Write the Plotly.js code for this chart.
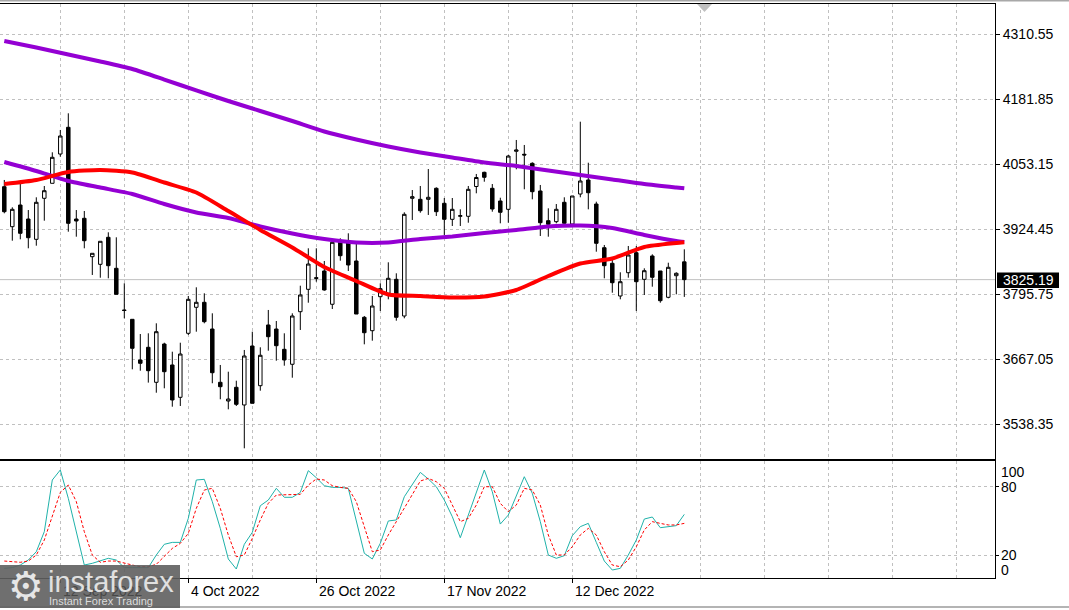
<!DOCTYPE html>
<html>
<head>
<meta charset="utf-8">
<script src="https://cdn.plot.ly/plotly-3.0.1.min.js"></script>
<style>
  html, body { margin: 0; padding: 0; background: #ffffff; }
  #chart { width: 1069px; height: 610px; }
</style>
</head>
<body>
<div id="chart"></div>
<script>
// ---------------- data ----------------
const bars = Array.from({length: 86}, (_, i) => i);

const open = [4009.2,3930.0,3972.9,3945.2,3905.0,3986.2,4015.9,4073.9,4126.8,3945.2,
  3946.6,3870.6,3855.5,3909.0,3847.6,3765.1,3746.6,3666.1,3691.2,3621.9,
  3697.7,3656.2,3592.2,3718.9,3770.4,3780.3,3727.4,3621.9,3584.9,3612.0,
  3577.0,3693.8,3615.2,3735.4,3727.4,3687.2,3657.6,3761.7,3806.0,3829.0,
  3842.3,3776.4,3899.1,3899.1,3862.1,3750.6,3724.1,3791.4,3798.1,3825.8,
  3753.2,3986.2,3984.2,3984.2,4006.0,3976.3,3944.6,3950.6,3950.6,4009.6,
  4037.7,4006.0,3980.9,3964.4,4079.3,4073.4,4055.5,4000.7,3941.9,3939.9,
  3978.3,3935.3,3994.7,4022.5,3974.9,3888.4,3857.5,3792.8,3838.9,3878.5,
  3825.8,3872.0,3842.3,3790.2,3833.0,3860.4];
const high = [4022.5,3968.4,4017.1,3963.0,3988.2,4010.6,4077.3,4121.5,4154.5,3963.0,
  3961.1,3877.3,3901.1,3918.9,3909.0,3817.9,3746.6,3717.5,3718.9,3738.7,
  3700.3,3682.5,3700.3,3792.8,3810.0,3798.1,3758.5,3656.2,3642.9,3625.1,
  3685.9,3722.1,3691.2,3765.1,3743.3,3718.9,3758.5,3813.2,3887.2,3887.2,
  3862.1,3901.7,3907.0,3916.9,3900.3,3753.2,3792.8,3817.9,3859.5,3837.7,
  3958.5,4002.6,4010.6,4044.2,4008.0,3986.8,3986.8,3964.4,4010.6,4034.4,
  4038.9,4014.5,3987.4,4071.9,4101.7,4091.8,4057.5,4012.6,3966.4,3974.9,
  3988.2,3990.8,4137.9,4056.7,3979.5,3893.8,3867.4,3839.7,3891.8,3891.8,
  3847.6,3875.3,3842.3,3858.7,3839.7,3885.2];
const low = [3956.5,3902.3,3905.0,3887.2,3892.4,3941.9,4015.9,4068.6,3920.1,3910.2,
  3887.2,3834.4,3829.0,3827.8,3796.1,3748.6,3647.6,3644.9,3621.3,3601.3,
  3610.0,3573.6,3575.0,3715.6,3722.1,3738.7,3620.0,3588.3,3568.4,3575.0,
  3491.2,3580.3,3605.3,3684.5,3664.7,3654.8,3631.0,3725.5,3779.5,3821.1,
  3803.3,3767.0,3862.7,3842.3,3757.1,3697.1,3704.3,3763.1,3786.2,3743.9,
  3748.6,3943.3,3957.7,3953.2,3951.2,3913.6,3931.4,3931.4,3937.9,3996.1,
  4019.1,3959.7,3936.7,3937.9,4043.6,4004.1,3984.2,3911.6,3910.2,3936.7,
  3935.3,3935.3,3988.2,3964.4,3880.5,3827.8,3799.3,3786.2,3829.0,3763.1,
  3794.8,3811.2,3779.5,3788.2,3796.1,3791.0];
const close = [3959.7,3964.4,3916.9,3908.2,3978.3,4001.3,4067.4,4109.6,3936.7,3941.3,
  3902.3,3877.3,3901.1,3852.8,3796.1,3764.1,3689.2,3659.5,3644.9,3722.1,
  3642.9,3586.9,3677.9,3786.2,3780.3,3741.9,3640.9,3613.2,3588.8,3578.3,
  3674.0,3580.3,3675.4,3712.2,3694.4,3666.1,3753.2,3794.8,3856.1,3827.8,
  3804.7,3899.1,3872.6,3854.2,3757.1,3720.1,3773.0,3807.3,3827.8,3750.6,
  3954.5,3989.4,3961.7,3988.2,3959.7,3944.6,3964.4,3951.8,4004.0,4027.4,
  4027.8,3965.0,3958.5,4069.9,4081.9,4072.0,3999.3,3937.9,3934.7,3964.4,
  3936.7,3990.8,4020.5,3997.3,3897.1,3852.8,3819.1,3821.1,3874.0,3821.1,
  3842.9,3829.8,3783.5,3849.6,3837.7,3825.19];

// moving averages, read at every 4th bar
const maIdx = [0,4,8,12,16,20,24,28,32,36,40,44,48,52,56,60,64,68,72,76,80,84,85];
const maSlow = [4297.7,4284.8,4270.9,4257.1,4242.2,4221.4,4199.7,4178.9,4159.1,4139.3,
  4118.5,4102.7,4088.8,4077.0,4067.0,4057.1,4050.2,4041.3,4032.4,4023.5,4014.5,4007.6,4006.0];
const maMid = [4058.1,4040.3,4020.5,4007.6,3994.8,3974.9,3958.1,3947.2,3930.4,3916.5,
  3905.6,3898.7,3898.7,3905.6,3910.6,3917.5,3923.5,3930.4,3932.4,3927.4,3913.6,3901.7,3899.7];
const maFast = [4014.6,4022.5,4038.3,4042.3,4037.3,4017.5,3997.7,3961.1,3923.5,3888.8,
  3850.2,3822.5,3795.8,3792.8,3789.8,3791.8,3804.7,3832.4,3857.1,3867.0,3889.8,3897.7,3899.1];

// stochastic %K and %D
const stochK = [8.3,8.9,11.2,15.6,22.9,40.5,85.9,94.7,69.8,40.5,
  11.2,12.7,14.7,17.1,15.6,8.9,8.9,8.9,8.9,20.0,
  29.4,31.1,31.1,52.2,85.9,86.5,66.9,43.4,16.5,7.7,
  29.4,39.9,63.3,68.3,78.6,70.7,70.7,75.0,94.1,87.9,
  80.9,79.4,79.4,78.6,49.3,21.5,16.5,30.3,49.9,50.8,
  71.2,81.5,92.6,86.8,80.0,68.3,53.7,35.2,55.1,74.2,
  94.7,75.6,47.2,55.1,72.7,88.8,74.2,49.3,20.0,17.1,
  19.4,37.0,44.9,47.8,31.1,14.7,6.8,8.3,20.0,33.2,
  51.6,53.4,44.0,44.9,45.8,55.7];
const stochD = [14.7,14.1,13.6,14.7,20.0,33.2,53.7,75.0,81.5,66.9,
  40.5,20.0,13.6,14.7,14.7,12.7,11.2,9.7,9.7,11.8,
  18.5,25.8,30.2,39.0,61.0,77.1,78.6,61.0,37.6,18.5,
  20.0,34.6,50.8,65.4,72.7,72.7,72.7,73.3,81.5,86.8,
  85.9,80.9,79.4,78.6,66.9,44.9,22.9,24.4,37.6,49.3,
  61.0,72.7,85.0,87.3,84.4,78.6,63.9,49.3,52.2,63.9,
  80.0,80.0,65.4,58.1,63.9,78.6,77.1,63.9,37.6,20.0,
  20.0,27.3,37.6,43.4,37.6,22.9,11.2,9.7,15.6,27.3,
  42.0,49.3,47.8,46.4,46.4,47.8];

const priceTicks = [3538.35, 3667.05, 3795.75, 3924.45, 4053.15, 4181.85, 4310.55];
const lastPrice = 3825.19;
const dateTickIdx = [7, 23, 39, 55, 71];
const dateTickText = ["12 Sep 2022", "4 Oct 2022", "26 Oct 2022", "17 Nov 2022", "12 Dec 2022"];
const stochLevels = [100, 80, 20, 0];

// ---------------- geometry helpers ----------------
const W = 1069, H = 610;
const px = x => x / W;
const py = y => 1 - y / H;
const plotRight = px(995);
const GRID = '#c0c0c0';
const FONT = 'Liberation Sans, Arial, sans-serif';

const traces = [
  {
    type: 'candlestick', x: bars, open: open, high: high, low: low, close: close,
    xaxis: 'x', yaxis: 'y', whiskerwidth: 0,
    increasing: {line: {color: '#000000', width: 1}, fillcolor: '#ffffff'},
    decreasing: {line: {color: '#000000', width: 1}, fillcolor: '#000000'},
    hoverinfo: 'skip', showlegend: false
  },
  {type: 'scatter', mode: 'lines', x: maIdx, y: maSlow, xaxis: 'x', yaxis: 'y',
   line: {color: '#9400D3', width: 4, shape: 'spline', smoothing: 0.6}, hoverinfo: 'skip'},
  {type: 'scatter', mode: 'lines', x: maIdx, y: maMid, xaxis: 'x', yaxis: 'y',
   line: {color: '#9400D3', width: 4, shape: 'spline', smoothing: 0.6}, hoverinfo: 'skip'},
  {type: 'scatter', mode: 'lines', x: maIdx, y: maFast, xaxis: 'x', yaxis: 'y',
   line: {color: '#FF0000', width: 4, shape: 'spline', smoothing: 0.6}, hoverinfo: 'skip'},
  {type: 'scatter', mode: 'lines', x: bars, y: stochK, xaxis: 'x2', yaxis: 'y2',
   line: {color: '#20B2AA', width: 1}, hoverinfo: 'skip'},
  {type: 'scatter', mode: 'lines', x: bars, y: stochD, xaxis: 'x2', yaxis: 'y2',
   line: {color: '#FF0000', width: 1, dash: '3px,2px'}, hoverinfo: 'skip'}
];

const xRange = [(0 - 4.3) / 8, (995 - 4.3) / 8];

const annotations = [];
dateTickIdx.forEach((idx, k) => {
  annotations.push({
    x: idx, xref: 'x2', y: py(591), yref: 'paper', xanchor: 'left', yanchor: 'middle',
    xshift: 1, showarrow: false, text: dateTickText[k],
    font: {family: FONT, size: 14, color: k === 0 ? 'rgba(20,20,20,0.45)' : '#000000'}
  });
});
const stochLabelY = {100: 471.7, 80: 487, 20: 555, 0: 570};
stochLevels.forEach(v => {
  annotations.push({
    x: px(999), xref: 'paper', y: py(stochLabelY[v]), yref: 'paper',
    xanchor: 'left', yanchor: 'middle', showarrow: false, text: String(v),
    font: {family: FONT, size: 14, color: '#000000'}
  });
});
annotations.push({
  x: px(1028), xref: 'paper', y: lastPrice, yref: 'y', xanchor: 'center', yanchor: 'middle',
  showarrow: false, text: lastPrice.toFixed(2), font: {family: FONT, size: 14, color: '#ffffff'}
});
// logo texts
annotations.push({x: px(26), xref: 'paper', y: py(586), yref: 'paper', xanchor: 'center', yanchor: 'middle',
  showarrow: false, text: '⚙', font: {family: 'DejaVu Sans', size: 40, color: '#e6e6e6'}});
annotations.push({x: px(46), xref: 'paper', y: py(582), yref: 'paper', xanchor: 'left', yanchor: 'middle',
  showarrow: false, text: 'instaforex', font: {family: FONT, size: 29, color: '#e0e0e0'}});
annotations.push({x: px(47), xref: 'paper', y: py(600.5), yref: 'paper', xanchor: 'left', yanchor: 'middle',
  showarrow: false, text: 'Instant Forex Trading', font: {family: FONT, size: 11, color: '#dcdcdc'}});

const shapes = [
  // bid price line
  {type: 'line', xref: 'paper', yref: 'y', x0: 0, x1: plotRight, y0: lastPrice, y1: lastPrice,
   line: {color: GRID, width: 1}, layer: 'between'},
  // price box
  {type: 'rect', xref: 'paper', yref: 'paper', x0: px(997), x1: px(1059), y0: py(288), y1: py(272.5),
   fillcolor: '#000000', line: {width: 0}, layer: 'above'},
  // top gray band
  {type: 'rect', xref: 'paper', yref: 'paper', x0: 0, x1: 1, y0: py(1.5), y1: 1,
   fillcolor: '#a8a8a8', line: {width: 0}, layer: 'above'},
  // bottom gray line
  {type: 'line', xref: 'paper', yref: 'paper', x0: 0, x1: 1, y0: py(607), y1: py(607),
   line: {color: '#b4b4b4', width: 2}, layer: 'above'},
  // shift marker
  {type: 'path', xref: 'paper', yref: 'paper',
   path: `M ${px(697)},${py(4)} L ${px(712)},${py(4)} L ${px(704.5)},${py(12)} Z`,
   fillcolor: '#c0c0c0', line: {width: 0}, layer: 'above'},
  // logo box
  {type: 'rect', xref: 'paper', yref: 'paper', x0: 0, x1: px(180), y0: py(608), y1: py(565),
   fillcolor: 'rgba(95,95,95,0.9)', line: {width: 0}, layer: 'above'}
];

const layout = {
  width: W, height: H, autosize: false,
  margin: {l: 0, r: 0, t: 0, b: 0, pad: 0},
  paper_bgcolor: '#ffffff', plot_bgcolor: '#ffffff',
  font: {family: FONT, size: 14, color: '#000000'},
  showlegend: false, boxgap: 0.38,
  xaxis: {
    domain: [0, plotRight], range: xRange, anchor: 'y',
    tick0: 7, dtick: 8, showgrid: true, gridcolor: GRID, griddash: '3px,3px', gridwidth: 1,
    showticklabels: false, ticks: '', zeroline: false,
    showline: true, mirror: true, linecolor: '#000000', linewidth: 1,
    rangeslider: {visible: false}, fixedrange: true
  },
  yaxis: {
    domain: [py(459), py(4)], range: [3470.04, 4370.94], anchor: 'x', side: 'right',
    tickvals: priceTicks, ticktext: priceTicks.map(v => v.toFixed(2)),
    ticks: 'outside', ticklen: 4, tickcolor: '#000000',
    showgrid: true, gridcolor: GRID, griddash: '3px,3px', gridwidth: 1,
    zeroline: false, showline: true, linecolor: '#000000', linewidth: 1,
    tickfont: {family: FONT, size: 14, color: '#000000'}, fixedrange: true
  },
  xaxis2: {
    domain: [0, plotRight], range: xRange, anchor: 'y2',
    tickvals: dateTickIdx, ticks: 'outside', ticklen: 4, tickcolor: '#000000',
    showgrid: true, gridcolor: GRID, griddash: '3px,3px', gridwidth: 1,
    minor: {tick0: 7, dtick: 8, showgrid: true, gridcolor: GRID, griddash: '3px,3px', gridwidth: 1, ticks: ''},
    showticklabels: false, zeroline: false,
    showline: true, mirror: true, linecolor: '#000000', linewidth: 1, fixedrange: true
  },
  yaxis2: {
    domain: [py(578), py(461)], range: [-0.2, 102.6], anchor: 'x2', side: 'right',
    tickvals: [20, 80], ticks: 'outside', ticklen: 3, tickcolor: '#000000',
    showticklabels: false,
    showgrid: true, gridcolor: GRID, griddash: '3px,3px', gridwidth: 1,
    zeroline: false, showline: true, linecolor: '#000000', linewidth: 1, fixedrange: true
  },
  shapes: shapes,
  annotations: annotations
};

Plotly.newPlot('chart', traces, layout, {staticPlot: true, displayModeBar: false});
</script>
</body>
</html>
